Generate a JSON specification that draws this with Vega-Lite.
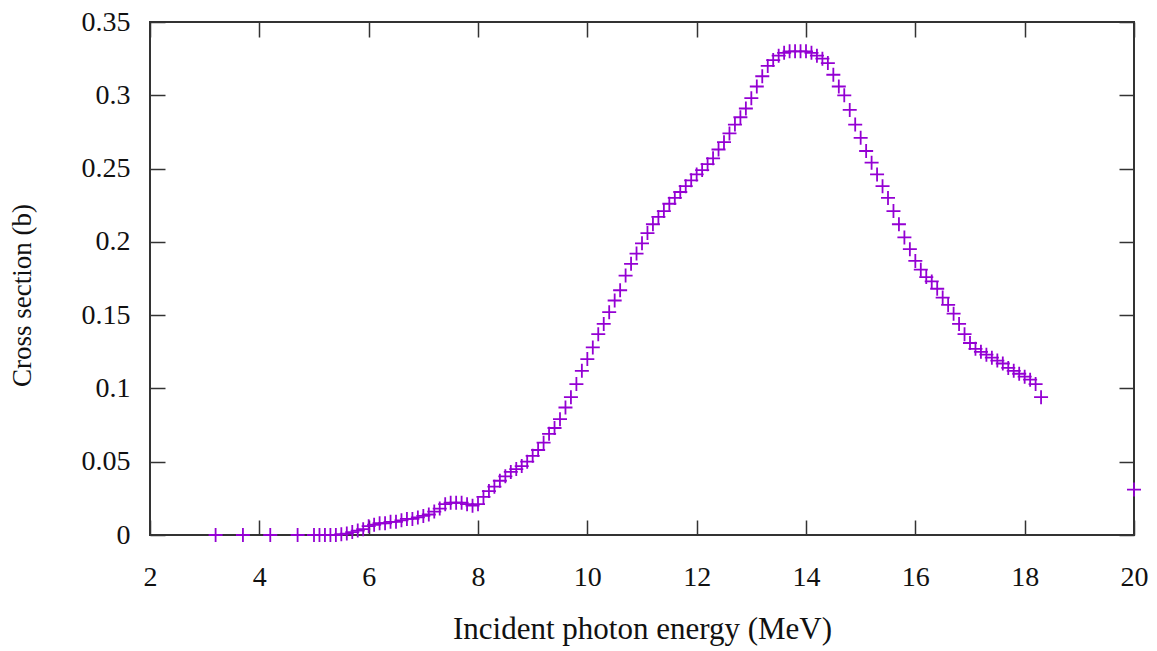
{
  "$schema": "https://vega.github.io/schema/vega-lite/v6.json",
  "width": 984,
  "height": 513,
  "autosize": "none",
  "padding": {"left": 150, "top": 22, "right": 23, "bottom": 116},
  "background": "white",
  "config": {
    "view": {"stroke": "#333333", "strokeWidth": 2},
    "font": "Liberation Serif",
    "axis": {
      "grid": false,
      "domain": false,
      "tickSize": -15,
      "tickColor": "#333333",
      "tickWidth": 1.5,
      "labelFlush": false,
      "labelFont": "Liberation Serif",
      "titleFont": "Liberation Serif",
      "labelFontSize": 28,
      "titleFontSize": 29,
      "labelColor": "#111111",
      "titleColor": "#111111",
      "titleFontWeight": "normal"
    }
  },
  "data": {
    "values": [
      {"e": 3.2, "s": 0}, {"e": 3.7, "s": 0}, {"e": 4.2, "s": 0}, {"e": 4.7, "s": 0},
      {"e": 5.0, "s": 0}, {"e": 5.1, "s": 0}, {"e": 5.2, "s": 0}, {"e": 5.3, "s": 0}, {"e": 5.4, "s": 0},
      {"e": 5.5, "s": 0.0005}, {"e": 5.6, "s": 0.001}, {"e": 5.7, "s": 0.002}, {"e": 5.8, "s": 0.003}, {"e": 5.9, "s": 0.004},
      {"e": 6.0, "s": 0.006}, {"e": 6.1, "s": 0.007}, {"e": 6.2, "s": 0.008}, {"e": 6.3, "s": 0.008}, {"e": 6.4, "s": 0.009},
      {"e": 6.5, "s": 0.009}, {"e": 6.6, "s": 0.010}, {"e": 6.7, "s": 0.011}, {"e": 6.8, "s": 0.011}, {"e": 6.9, "s": 0.012},
      {"e": 7.0, "s": 0.013}, {"e": 7.1, "s": 0.014}, {"e": 7.2, "s": 0.016}, {"e": 7.3, "s": 0.018}, {"e": 7.4, "s": 0.021},
      {"e": 7.5, "s": 0.022}, {"e": 7.6, "s": 0.022}, {"e": 7.7, "s": 0.022}, {"e": 7.8, "s": 0.021}, {"e": 7.9, "s": 0.020},
      {"e": 8.0, "s": 0.021}, {"e": 8.1, "s": 0.026}, {"e": 8.2, "s": 0.030}, {"e": 8.3, "s": 0.033}, {"e": 8.4, "s": 0.037},
      {"e": 8.5, "s": 0.040}, {"e": 8.6, "s": 0.043}, {"e": 8.7, "s": 0.045}, {"e": 8.8, "s": 0.047}, {"e": 8.9, "s": 0.050},
      {"e": 9.0, "s": 0.054}, {"e": 9.1, "s": 0.058}, {"e": 9.2, "s": 0.063}, {"e": 9.3, "s": 0.069}, {"e": 9.4, "s": 0.073},
      {"e": 9.5, "s": 0.079}, {"e": 9.6, "s": 0.087}, {"e": 9.7, "s": 0.094}, {"e": 9.8, "s": 0.103}, {"e": 9.9, "s": 0.112},
      {"e": 10.0, "s": 0.120}, {"e": 10.1, "s": 0.128}, {"e": 10.2, "s": 0.137}, {"e": 10.3, "s": 0.144}, {"e": 10.4, "s": 0.152},
      {"e": 10.5, "s": 0.160}, {"e": 10.6, "s": 0.167}, {"e": 10.7, "s": 0.177}, {"e": 10.8, "s": 0.185}, {"e": 10.9, "s": 0.192},
      {"e": 11.0, "s": 0.199}, {"e": 11.1, "s": 0.206}, {"e": 11.2, "s": 0.212}, {"e": 11.3, "s": 0.217}, {"e": 11.4, "s": 0.221},
      {"e": 11.5, "s": 0.226}, {"e": 11.6, "s": 0.230}, {"e": 11.7, "s": 0.234}, {"e": 11.8, "s": 0.238}, {"e": 11.9, "s": 0.242},
      {"e": 12.0, "s": 0.246}, {"e": 12.1, "s": 0.249}, {"e": 12.2, "s": 0.253}, {"e": 12.3, "s": 0.257}, {"e": 12.4, "s": 0.263},
      {"e": 12.5, "s": 0.268}, {"e": 12.6, "s": 0.274}, {"e": 12.7, "s": 0.280}, {"e": 12.8, "s": 0.285}, {"e": 12.9, "s": 0.291},
      {"e": 13.0, "s": 0.298}, {"e": 13.1, "s": 0.306}, {"e": 13.2, "s": 0.313}, {"e": 13.3, "s": 0.320}, {"e": 13.4, "s": 0.324},
      {"e": 13.5, "s": 0.327}, {"e": 13.6, "s": 0.329}, {"e": 13.7, "s": 0.330}, {"e": 13.8, "s": 0.330}, {"e": 13.9, "s": 0.330},
      {"e": 14.0, "s": 0.330}, {"e": 14.1, "s": 0.329}, {"e": 14.2, "s": 0.327}, {"e": 14.3, "s": 0.325}, {"e": 14.4, "s": 0.322},
      {"e": 14.5, "s": 0.314}, {"e": 14.6, "s": 0.306}, {"e": 14.7, "s": 0.300}, {"e": 14.8, "s": 0.290}, {"e": 14.9, "s": 0.280},
      {"e": 15.0, "s": 0.271}, {"e": 15.1, "s": 0.262}, {"e": 15.2, "s": 0.254}, {"e": 15.3, "s": 0.246}, {"e": 15.4, "s": 0.238},
      {"e": 15.5, "s": 0.230}, {"e": 15.6, "s": 0.221}, {"e": 15.7, "s": 0.212}, {"e": 15.8, "s": 0.203}, {"e": 15.9, "s": 0.195},
      {"e": 16.0, "s": 0.187}, {"e": 16.1, "s": 0.181}, {"e": 16.2, "s": 0.176}, {"e": 16.3, "s": 0.173}, {"e": 16.4, "s": 0.168},
      {"e": 16.5, "s": 0.162}, {"e": 16.6, "s": 0.157}, {"e": 16.7, "s": 0.151}, {"e": 16.8, "s": 0.144}, {"e": 16.9, "s": 0.137},
      {"e": 17.0, "s": 0.131}, {"e": 17.1, "s": 0.127}, {"e": 17.2, "s": 0.125}, {"e": 17.3, "s": 0.123}, {"e": 17.4, "s": 0.121},
      {"e": 17.5, "s": 0.119}, {"e": 17.6, "s": 0.117}, {"e": 17.7, "s": 0.114}, {"e": 17.8, "s": 0.112}, {"e": 17.9, "s": 0.110},
      {"e": 18.0, "s": 0.108}, {"e": 18.1, "s": 0.106}, {"e": 18.2, "s": 0.103}, {"e": 18.3, "s": 0.094},
      {"e": 20.0, "s": 0.031}
    ]
  },
  "layer": [
    {
      "mark": {"type": "point", "shape": "M-1,0L1,0M0,-1L0,1", "filled": false, "size": 196, "strokeWidth": 1.8, "color": "#9400d3", "opacity": 1, "clip": false},
      "encoding": {
        "x": {
          "field": "e", "type": "quantitative",
          "scale": {"domain": [2, 20], "nice": false, "zero": false},
          "axis": {"orient": "bottom", "values": [2, 4, 6, 8, 10, 12, 14, 16, 18, 20], "labelPadding": 43, "title": "Incident photon energy (MeV)", "titleFontSize": 31, "titlePadding": 23}
        },
        "y": {
          "field": "s", "type": "quantitative",
          "scale": {"domain": [0, 0.35], "nice": false},
          "axis": {"orient": "left", "values": [0, 0.05, 0.1, 0.15, 0.2, 0.25, 0.3, 0.35], "format": "~g", "labelPadding": 35, "title": "Cross section (b)", "titleFontSize": 27, "titleY": 273, "titlePadding": 45}
        }
      }
    },
    {
      "mark": {"type": "point", "opacity": 0},
      "encoding": {
        "x": {
          "field": "e", "type": "quantitative",
          "scale": {"domain": [2, 20], "nice": false, "zero": false},
          "axis": {"orient": "top", "values": [2, 4, 6, 8, 10, 12, 14, 16, 18, 20], "labels": false, "title": null}
        },
        "y": {
          "field": "s", "type": "quantitative",
          "scale": {"domain": [0, 0.35], "nice": false},
          "axis": {"orient": "right", "values": [0, 0.05, 0.1, 0.15, 0.2, 0.25, 0.3, 0.35], "labels": false, "title": null}
        }
      }
    }
  ],
  "resolve": {"axis": {"x": "independent", "y": "independent"}}
}
